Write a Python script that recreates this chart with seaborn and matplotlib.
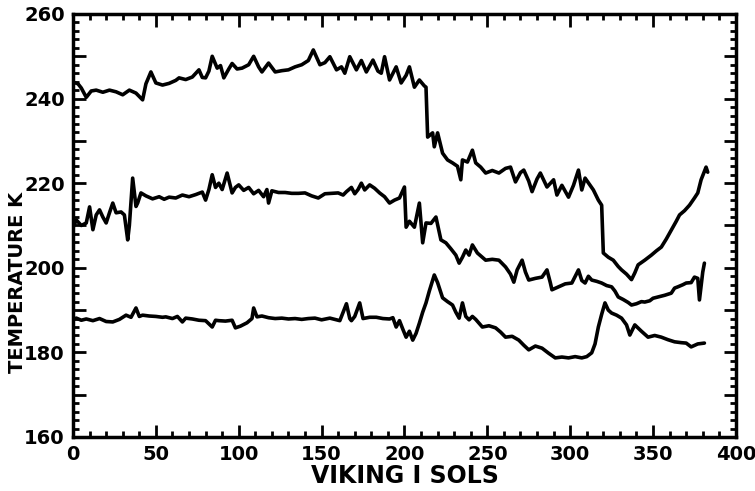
import numpy as np
import pandas as pd
import matplotlib
matplotlib.use("Agg")
import matplotlib.pyplot as plt
import seaborn as sns
from matplotlib.ticker import MultipleLocator, FuncFormatter

# values (sol, temperature K)
top_sols = [0, 3, 5, 8, 11, 14, 18, 22, 26, 30, 34, 38, 42, 44, 47, 50, 54, 58, 62, 64,
            68, 72, 76, 78, 80, 82, 84, 87, 89, 91, 94, 96, 99, 102, 106, 109, 112, 114, 118, 122,
            126, 130, 134, 138, 142, 145, 149, 152, 155, 159, 162, 164, 167, 171, 174, 177, 181, 184, 186, 188,
            191, 195, 198, 201, 203, 206, 209, 212, 213, 214, 217, 218, 220, 223, 226, 229, 232, 234, 235, 238,
            241, 243, 246, 249, 253, 257, 261, 264, 267, 270, 272, 275, 277, 280, 282, 286, 290, 292, 295, 299,
            302, 305, 307, 309, 312, 314, 317, 319, 320, 323, 326, 329, 331, 334, 337, 339, 341, 345, 349, 352,
            355, 358, 361, 364, 366, 369, 372, 375, 377, 379, 382, 383]
top_temp = [243.9, 243.5, 242.5, 240.3, 241.8, 242.0, 241.5, 242.0, 241.6, 240.9, 242.0, 241.3, 239.7, 243.5, 246.3, 243.7, 243.2, 243.6, 244.3, 244.9,
            244.5, 245.1, 246.8, 245.0, 244.9, 246.5, 250.0, 247.2, 247.8, 244.9, 247.0, 248.3, 247.0, 247.2, 248.0, 250.0, 247.5, 246.3, 248.4, 246.3,
            246.6, 246.8, 247.5, 248.0, 249.0, 251.5, 248.0, 248.5, 249.9, 246.8, 247.5, 246.0, 249.9, 246.8, 249.0, 246.3, 249.1, 246.5, 246.0, 249.9,
            244.4, 247.5, 243.7, 245.5, 247.5, 242.7, 244.4, 243.0, 242.7, 230.9, 231.9, 228.6, 231.9, 227.1, 225.5, 224.8, 224.0, 220.8, 225.5, 225.0,
            227.8, 224.8, 223.8, 222.4, 223.0, 222.4, 223.5, 223.8, 220.3, 222.5, 223.1, 220.5, 218.0, 221.0, 222.4, 219.1, 220.8, 217.2, 219.5, 216.7,
            219.5, 223.1, 218.4, 221.2, 219.5, 218.4, 216.0, 214.8, 203.5, 202.5, 201.8, 200.3, 199.5, 198.5, 197.2, 198.8, 200.7, 201.8, 203.0, 204.0,
            204.9, 206.8, 208.9, 211.0, 212.5, 213.5, 214.8, 216.5, 217.7, 220.8, 223.8, 222.6]

mid_sols = [0, 2, 5, 8, 10, 12, 14, 16, 18, 20, 22, 24, 26, 29, 31, 33, 34, 36, 38, 39,
            41, 44, 48, 52, 55, 58, 62, 66, 70, 74, 78, 80, 82, 84, 86, 88, 90, 93, 96, 98,
            100, 103, 106, 109, 112, 115, 117, 118, 120, 124, 128, 132, 136, 140, 144, 148, 152, 156, 160, 163,
            165, 168, 170, 172, 174, 176, 179, 182, 185, 188, 191, 194, 197, 200, 201, 203, 206, 209, 211, 213,
            216, 219, 222, 225, 228, 231, 233, 235, 237, 239, 241, 244, 247, 249, 253, 257, 259, 261, 264, 266,
            268, 271, 273, 275, 279, 283, 286, 288, 289, 293, 297, 301, 305, 307, 309, 311, 313, 316, 319, 322,
            325, 327, 329, 332, 335, 337, 340, 343, 345, 348, 350, 353, 357, 361, 363, 365, 368, 370, 373, 375,
            377, 378, 380, 381]
mid_temp = [209.5, 211.3, 210.0, 210.6, 214.4, 209.0, 212.5, 213.7, 212.0, 210.6, 213.0, 215.3, 213.0, 213.2, 212.5, 206.6, 210.0, 221.2, 214.5, 215.3,
            217.7, 217.0, 216.3, 216.8, 216.2, 216.7, 216.5, 217.2, 216.8, 217.3, 217.9, 216.0, 218.5, 222.0, 219.0, 220.0, 218.5, 222.4, 217.7, 219.0,
            219.6, 218.3, 219.0, 217.5, 218.3, 216.8, 218.5, 215.3, 218.2, 217.8, 217.8, 217.6, 217.6, 217.7, 217.0, 216.5, 217.5, 217.6, 217.7, 217.2,
            218.0, 219.0, 217.5, 218.5, 220.0, 218.4, 219.6, 218.8, 217.7, 216.8, 215.3, 216.0, 216.5, 219.1, 209.6, 211.0, 209.6, 215.3, 205.9, 210.6,
            210.5, 212.0, 206.6, 205.9, 204.5, 203.0, 201.1, 202.5, 204.2, 203.0, 205.4, 203.5, 202.5, 201.8, 202.0, 201.8, 201.0, 200.2, 198.5, 196.6,
            199.5, 201.8, 199.0, 197.1, 197.5, 197.8, 199.5, 196.5, 194.8, 195.5, 196.2, 196.4, 199.5, 197.0, 196.4, 198.0, 197.1, 196.8, 196.4, 195.8,
            195.5, 194.5, 193.1, 192.5, 191.8, 191.2, 191.5, 192.0, 191.9, 192.2, 192.8, 193.1, 193.5, 194.0, 195.2, 195.5, 196.0, 196.4, 196.5, 197.8,
            197.5, 192.4, 199.0, 201.1]

low_sols = [0, 2, 5, 8, 12, 16, 20, 24, 28, 32, 35, 38, 40, 42, 46, 50, 54, 56, 60, 63,
            66, 68, 72, 76, 80, 84, 86, 88, 92, 96, 98, 101, 105, 108, 109, 111, 114, 118, 122, 126,
            130, 134, 138, 142, 146, 150, 155, 158, 161, 163, 165, 167, 168, 170, 173, 175, 179, 183, 187, 191,
            193, 195, 197, 199, 201, 203, 205, 207, 209, 211, 213, 215, 218, 220, 223, 226, 229, 231, 233, 235,
            237, 239, 241, 243, 247, 251, 255, 258, 261, 265, 269, 272, 275, 279, 283, 287, 291, 295, 299, 303,
            307, 310, 313, 315, 317, 319, 321, 323, 325, 328, 331, 334, 336, 339, 343, 347, 351, 355, 359, 363,
            367, 370, 373, 377, 381]
low_temp = [187.8, 188.1, 187.6, 187.9, 187.5, 188.0, 187.3, 187.2, 187.8, 188.8, 188.3, 190.5, 188.5, 188.8, 188.6, 188.5, 188.3, 188.4, 188.0, 188.5,
            187.2, 188.1, 187.9, 187.6, 187.5, 186.0, 187.6, 187.5, 187.4, 187.6, 185.8, 186.2, 187.0, 188.0, 190.5, 188.4, 188.6, 188.2, 188.0, 188.1,
            187.9, 188.0, 187.8, 188.0, 188.1, 187.7, 188.1, 187.8, 187.5, 189.5, 191.5, 188.0, 187.5, 188.5, 191.7, 188.0, 188.3, 188.3, 188.0, 187.9,
            188.2, 186.0, 187.5, 185.5, 183.6, 185.0, 182.9, 184.5, 186.9, 189.5, 191.7, 194.5, 198.3, 196.5, 192.9, 192.0, 191.2, 189.5, 188.1, 191.7,
            188.5, 187.7, 188.5, 187.8, 186.0, 186.3, 185.8, 184.8, 183.6, 183.8, 182.9, 181.7, 180.6, 181.5, 181.0, 179.8, 178.7, 178.9, 178.7, 179.0,
            178.7, 179.0, 179.9, 182.0, 186.0, 189.0, 191.7, 190.0, 189.3, 188.8, 188.1, 186.5, 184.1, 186.5, 185.0, 183.6, 184.0, 183.6, 183.0, 182.5,
            182.3, 182.2, 181.3, 182.0, 182.2]

sns.set_style("ticks")
plt.rcParams['font.family'] = ['DejaVu Sans']
plt.rcParams['font.weight'] = 'bold'
plt.rcParams['text.color'] = 'black'
plt.rcParams['axes.labelcolor'] = 'black'
plt.rcParams['xtick.color'] = 'black'
plt.rcParams['ytick.color'] = 'black'

fig = plt.figure(figsize=(7.55, 4.91), dpi=100)
ax = fig.add_axes([0.0967, 0.110, 0.878, 0.8615])

for sols, temp in [(top_sols, top_temp), (mid_sols, mid_temp), (low_sols, low_temp)]:
    sns.lineplot(x=sols, y=temp, ax=ax, color="black", linewidth=2.6,
                 estimator=None, sort=False)

ax.set_xlim(0, 400)
ax.set_ylim(160, 260)

ax.xaxis.set_major_locator(MultipleLocator(50))
ax.xaxis.set_minor_locator(MultipleLocator(10))
ax.yaxis.set_major_locator(MultipleLocator(10))
ax.yaxis.set_minor_locator(MultipleLocator(2))
ax.yaxis.set_major_formatter(FuncFormatter(lambda v, p: f"{int(v)}" if int(v) % 20 == 0 else ""))

ax.tick_params(which="both", direction="in", top=True, right=True, width=2, color="black")
ax.tick_params(which="major", length=9, labelsize=14, pad=6, labelcolor="black")
ax.tick_params(which="minor", length=4.5)

for s in ax.spines.values():
    s.set_visible(True)
    s.set_linewidth(2.5)
    s.set_color("black")

ax.set_xlabel("VIKING I SOLS", fontsize=17, fontweight="bold", labelpad=0)
ax.set_ylabel("TEMPERATURE K", fontsize=14, fontweight="bold")
# the label sits low in the original, below the middle of the axis
ax.yaxis.set_label_coords(-0.07, 0.365)

fig.savefig("out.png", dpi=100)
